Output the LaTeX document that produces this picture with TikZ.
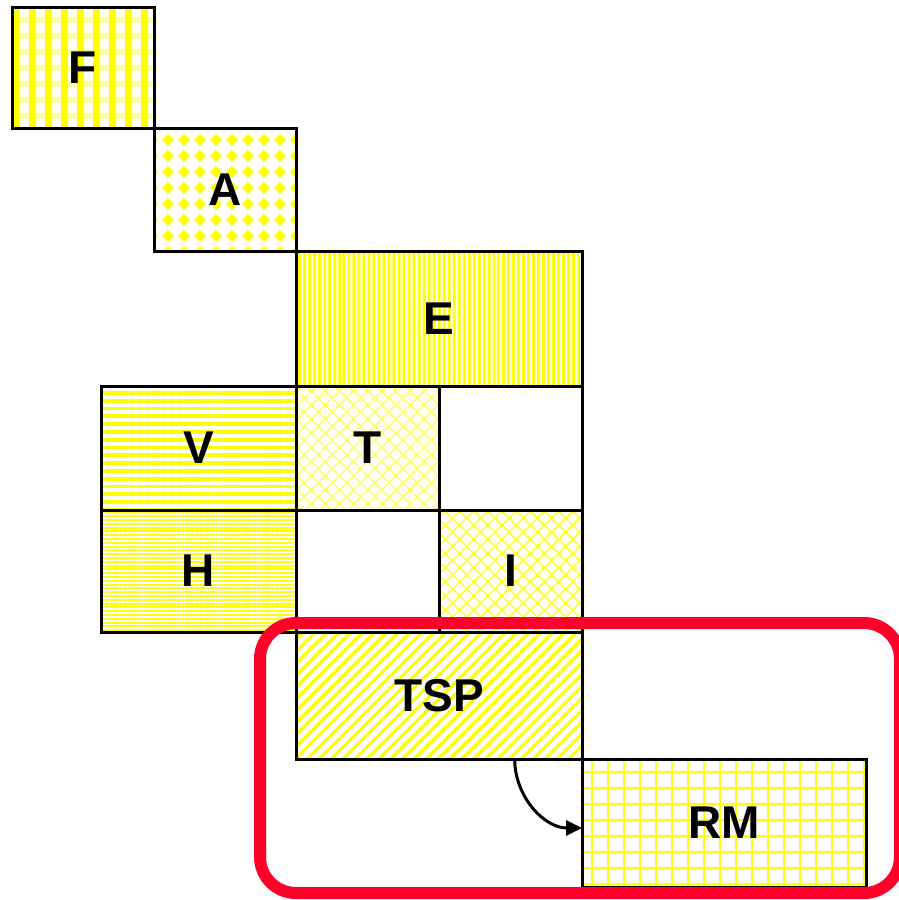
\documentclass[tikz,border=0pt]{standalone}
\usepackage{fontspec}
\setmainfont{Liberation Sans}
\usetikzlibrary{arrows.meta,positioning,calc,patterns.meta}
\definecolor{framered}{RGB}{255,0,40}
\pgfdeclarepattern{
  name=Diamonds,
  type=uncolored,
  bottom left={\pgfpoint{-0.1pt}{-0.1pt}},
  top right={\pgfpoint{16.1pt}{16.1pt}},
  tile size={\pgfpoint{16pt}{16pt}},
  code={
    \pgfpathmoveto{\pgfpoint{8pt}{2pt}}
    \pgfpathlineto{\pgfpoint{14pt}{8pt}}
    \pgfpathlineto{\pgfpoint{8pt}{14pt}}
    \pgfpathlineto{\pgfpoint{2pt}{8pt}}
    \pgfpathclose
    \pgfusepath{fill}
  }
}
\tikzset{
  blk/.style={draw, line width=3pt, outer sep=0pt, inner sep=0pt, font=\bfseries\fontsize{46}{46}\selectfont},
  pplaid/.style={preaction={pattern={Lines[angle=0,distance=16pt,line width=6pt]}, pattern color=yellow!40},
    pattern={Lines[angle=90,distance=16pt,line width=7pt]}, pattern color=yellow},
  pdiam/.style={pattern=Diamonds, pattern color=yellow},
  pvert/.style={pattern={Lines[angle=90,distance=5.4pt,line width=3.2pt]}, pattern color=yellow},
  phwide/.style={pattern={Lines[angle=0,distance=7.8pt,line width=3.8pt]}, pattern color=yellow},
  phfine/.style={pattern={Lines[angle=0,distance=3.8pt,line width=2pt]}, pattern color=yellow},
  pxhatch/.style={pattern={Hatch[angle=45,distance=10pt,line width=1.8pt]}, pattern color=yellow!#1},
  pdiag/.style={pattern={Lines[angle=45,distance=8.4pt,line width=3.2pt]}, pattern color=yellow},
  pgrid/.style={pattern={Hatch[angle=0,distance=16pt,line width=2.2pt]}, pattern color=yellow},
  flow/.style={-{Triangle[length=16pt,width=15pt]}, line width=3pt},
  grp/.style={draw=framered, line width=12pt, rounded corners=36pt}
}
\begin{document}
\begin{tikzpicture}[x=1pt, y=-1pt, node distance=0pt]
\useasboundingbox (0,0) rectangle (899,900);
\clip (0,0) rectangle (899,900);
\node[blk, pplaid, minimum width=142pt, minimum height=121pt, anchor=north west] (f) at (12,7) {F};
\node[blk, pdiam, minimum width=142pt, minimum height=123pt, below right=of f] (a) {A};
\node[blk, pvert, minimum width=286pt, minimum height=135pt, below right=of a] (e) {E};
\node[blk, pxhatch=55, minimum width=143pt, minimum height=124pt, below right=of e.south west] (t) {T};
\node[blk, minimum width=143pt, minimum height=124pt, right=of t] (tr) {};
\node[blk, phwide, minimum width=195pt, minimum height=124pt, left=of t] (v) {V};
\node[blk, phfine, minimum width=195pt, minimum height=122pt, below=of v] (h) {H};
\node[blk, minimum width=143pt, minimum height=122pt, right=of h] (hr) {};
\node[blk, pxhatch=75, minimum width=143pt, minimum height=122pt, right=of hr] (i) {I};
\node[blk, pdiag, minimum width=286pt, minimum height=127pt, below right=of h] (tsp) {TSP};
\node[blk, pgrid, minimum width=284pt, minimum height=128pt, below right=of tsp] (rm) {RM};
\draw[flow] (tsp.-40) to[out=-90, in=180] (rm.182);
% group frame round TSP and RM
\draw[grp] ($(tsp.north west)+(-36,-9)$) rectangle ($(rm.south east)+(34,6)$);
\end{tikzpicture}
\end{document}
